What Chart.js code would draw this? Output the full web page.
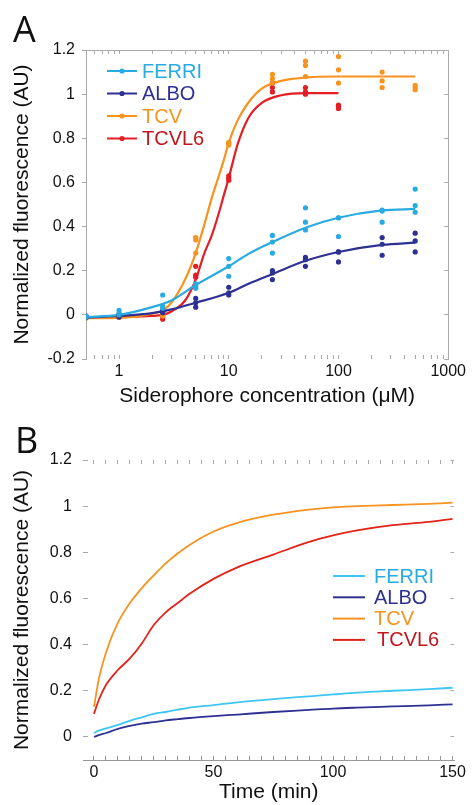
<!DOCTYPE html>
<html>
<head>
<meta charset="utf-8">
<script src="https://cdn.jsdelivr.net/npm/chart.js@4.4.0/dist/chart.umd.min.js"></script>
<style>
  body { margin: 0; background: #fff; }
  #wrap { position: relative; width: 473px; height: 805px; }
  canvas { position: absolute; left: 0; }
  .panel { position: absolute; font-family: "Open Sans", "Liberation Sans", sans-serif; font-size: 36px; line-height: 1; color: #111; }
</style>
</head>
<body>
<div id="wrap">
  <canvas id="chartA" width="473" height="415" style="top:0"></canvas>
  <canvas id="chartB" width="473" height="390" style="top:415px"></canvas>
  <div class="panel" style="left:13px;top:11px">A</div>
  <div class="panel" style="left:15px;top:422px">B</div>
</div>
<script>
// ---- data, panel A (dose response) ----
var names = ["FERRI", "ALBO", "TCV", "TCVL6"];
var concA = [0.5, 1, 2.5, 5, 10, 25, 50, 100, 250, 500];

// three replicates per concentration
var ferriPts = [[-0.01, -0.005, -0.01], [0.02, 0.005, 0.0], [0.09, 0.04, 0.03], [0.14, 0.12, 0.13], [0.255, 0.22, 0.175],
                [0.36, 0.33, 0.28], [0.485, 0.42, 0.385], [0.44, 0.44, 0.355], [0.47, 0.475, 0.42], [0.57, 0.495, 0.465]];
var alboPts = [[-0.01, -0.012, -0.008], [-0.005, -0.01, 0.0], [0.02, 0.015, 0.01], [0.075, 0.055, 0.035], [0.125, 0.1, 0.09],
               [0.2, 0.19, 0.16], [0.26, 0.25, 0.22], [0.285, 0.285, 0.24], [0.35, 0.32, 0.27], [0.37, 0.335, 0.285]];
var tcvPts = [[-0.015, -0.01, -0.012], [-0.01, -0.012, -0.008], [0.0, 0.005, -0.005], [0.35, 0.34, 0.28], [0.78, 0.77, 0.78],
              [1.09, 1.07, 1.05], [1.15, 1.13, 1.08], [1.17, 1.11, 1.05], [1.1, 1.06, 1.03], [1.04, 1.03, 1.02]];
var tcvl6Pts = [[-0.01, -0.005, -0.01], [0.005, -0.005, -0.01], [-0.02, -0.01, 0.0], [0.22, 0.18, 0.17], [0.63, 0.62, 0.61],
                [1.05, 1.03, 1.01], [1.03, 1.01, 1.0], [0.95, 0.945, 0.935]];

// fitted curves
var ferriCurveX = [0.5, 1, 2, 3, 5, 10, 15, 25, 50, 100, 250, 500];
var ferriCurveY = [-0.01, 0.0, 0.035, 0.065, 0.135, 0.22, 0.275, 0.33, 0.395, 0.44, 0.473, 0.48];
var alboCurveX = [0.5, 1, 2, 3, 5, 10, 15, 25, 50, 100, 250, 500];
var alboCurveY = [-0.012, -0.005, 0.008, 0.025, 0.055, 0.1, 0.14, 0.185, 0.245, 0.285, 0.317, 0.327];
var tcvCurveX = [0.5, 1, 2, 2.5, 3, 4, 5, 6, 7, 8, 9, 10, 12, 15, 20, 30, 50, 100, 500];
var tcvCurveY = [-0.015, -0.014, 0.005, 0.02, 0.055, 0.16, 0.28, 0.41, 0.53, 0.62, 0.7, 0.78, 0.88, 0.96, 1.025, 1.06, 1.075, 1.08, 1.08];
var tcvl6CurveX = [0.5, 1, 2, 2.5, 3, 4, 5, 6, 7, 8, 9, 10, 12, 15, 20, 30, 50, 100];
var tcvl6CurveY = [-0.01, -0.01, -0.005, 0.0, 0.015, 0.065, 0.16, 0.28, 0.36, 0.45, 0.54, 0.62, 0.77, 0.89, 0.96, 0.995, 1.005, 1.005];

var xTicksA = [0.5, 0.6, 0.7, 0.8, 0.9, 1, 2, 3, 4, 5, 6, 7, 8, 9, 10, 20, 30, 40, 50, 60, 70, 80, 90, 100,
               200, 300, 400, 500, 600, 700, 800, 900, 1000];
var xLabelsA = [1, 10, 100, 1000];
var yTicksA = [-0.2, 0, 0.2, 0.4, 0.6, 0.8, 1, 1.2];

// ---- data, panel B (time course) ----
var timeB = [0, 2, 5, 10, 15, 20, 25, 30, 35, 40, 50, 60, 75, 90, 100, 110, 125, 140, 150];
var ferriB = [0.017, 0.027, 0.037, 0.052, 0.07, 0.085, 0.1, 0.108, 0.118, 0.127, 0.138, 0.15, 0.164, 0.176, 0.184, 0.192, 0.2, 0.207, 0.213];
var alboB = [0.0, 0.008, 0.017, 0.035, 0.048, 0.058, 0.064, 0.072, 0.077, 0.082, 0.09, 0.097, 0.108, 0.117, 0.123, 0.127, 0.132, 0.137, 0.141];
var tcvB = [0.13, 0.25, 0.365, 0.495, 0.58, 0.645, 0.7, 0.752, 0.795, 0.832, 0.89, 0.928, 0.963, 0.985, 0.995, 1.0, 1.005, 1.01, 1.015];
var tcvl6B = [0.1, 0.16, 0.225, 0.29, 0.34, 0.405, 0.485, 0.54, 0.58, 0.62, 0.685, 0.735, 0.79, 0.845, 0.873, 0.895, 0.918, 0.932, 0.945];

var xLabelsB = [0, 50, 100, 150];
var yTicksB = [0, 0.2, 0.4, 0.6, 0.8, 1, 1.2];

var colorsA = ["#29abe2", "#2e3192", "#f7931e", "#e31e24"];
var colorsB = ["#3ec6f2", "#2e3192", "#f7931e", "#e2231a"];
var textColors = ["#29abe2", "#2e3192", "#f7931e", "#c1161c"];

Chart.defaults.font.family = '"Liberation Sans", Arial, sans-serif';
Chart.defaults.color = "#111";

function points(reps) {
    var out = [];
    reps.forEach(function (r, i) {
        r.forEach(function (v) { out.push({ x: concA[i], y: v }); });
    });
    return out;
}
function xy(xs, ys) {
    return xs.map(function (x, i) { return { x: x, y: ys[i] }; });
}
function setTicks(list) {
    return function (s) { s.ticks = list.map(function (v) { return { value: v }; }); };
}

// legend drawn inside the plot
function legendPlugin(x, y, step, len, gap, dot, lineColors) {
    return {
        id: "insideLegend",
        afterDraw: function (chart) {
            var ctx = chart.ctx;
            ctx.save();
            ctx.font = '20px "Liberation Sans", Arial, sans-serif';
            ctx.textBaseline = "middle";
            names.forEach(function (n, i) {
                var yy = y + i * step;
                ctx.strokeStyle = lineColors[i];
                ctx.lineWidth = 2;
                ctx.beginPath();
                ctx.moveTo(x, yy);
                ctx.lineTo(x + len, yy);
                ctx.stroke();
                if (dot) {
                    ctx.fillStyle = lineColors[i];
                    ctx.beginPath();
                    ctx.arc(x + len / 2, yy, 2.6, 0, Math.PI * 2);
                    ctx.fill();
                }
                ctx.fillStyle = textColors[i];
                ctx.fillText(n, x + len + gap + (i == 3 && !dot ? 3 : 0), yy + 1);
            });
            ctx.restore();
        }
    };
}

var ptsA = [points(ferriPts), points(alboPts), points(tcvPts), points(tcvl6Pts)];
var curvesA = [xy(ferriCurveX, ferriCurveY), xy(alboCurveX, alboCurveY), xy(tcvCurveX, tcvCurveY), xy(tcvl6CurveX, tcvl6CurveY)];

var dsA = [];
names.forEach(function (n, i) {
    dsA.push({ label: n, data: ptsA[i], pointRadius: 2.6, pointBackgroundColor: colorsA[i], pointBorderWidth: 0, order: 0 });
    dsA.push({ label: n + " fit", data: curvesA[i], showLine: true, pointRadius: 0, borderColor: colorsA[i],
               borderWidth: 2.2, cubicInterpolationMode: "monotone", order: 1 });
});

var axisGray = "#aaaaaa";

new Chart(document.getElementById("chartA"), {
    type: "scatter",
    data: { datasets: dsA },
    options: {
        responsive: false,
        animation: false,
        layout: { padding: 0 },
        plugins: { legend: { display: false }, tooltip: { enabled: false } },
        scales: {
            x: {
                type: "logarithmic", position: "bottom", min: 0.5, max: 1000,
                afterBuildTicks: setTicks(xTicksA),
                afterFit: function (s) { s.height = 56; },
                border: { display: false },
                grid: { drawOnChartArea: false, tickLength: -4, tickColor: axisGray },
                ticks: {
                    autoSkip: false, maxRotation: 0, minRotation: 0, padding: 7, font: { size: 16 },
                    callback: function (v) { return xLabelsA.indexOf(v) >= 0 ? String(v) : ""; }
                },
                title: { display: true, text: "Siderophore concentration (μM)", font: { size: 21 }, padding: { top: 0, bottom: 6 } }
            },
            x2: {
                type: "logarithmic", position: "top", min: 0.5, max: 1000,
                afterBuildTicks: setTicks(xTicksA),
                afterFit: function (s) { s.height = 50; },
                border: { display: true, color: axisGray },
                grid: { drawOnChartArea: false, tickLength: -4, tickColor: axisGray },
                ticks: { display: false }
            },
            y: {
                min: -0.2, max: 1.2,
                afterBuildTicks: setTicks(yTicksA),
                afterFit: function (s) { s.width = 86; },
                border: { display: true, color: axisGray },
                grid: { drawOnChartArea: false, tickLength: 4, tickColor: axisGray },
                ticks: { padding: 7, font: { size: 16 }, callback: function (v) { return String(v); } },
                title: { display: true, text: "Normalized fluorescence (AU)", font: { size: 21 }, padding: { top: 10, bottom: 0 } }
            },
            y2: {
                position: "right", min: -0.2, max: 1.2,
                afterBuildTicks: setTicks(yTicksA),
                afterFit: function (s) { s.width = 22; },
                border: { display: true, color: axisGray },
                grid: { drawOnChartArea: false, tickLength: -4, tickColor: axisGray },
                ticks: { display: false }
            }
        }
    },
    plugins: [legendPlugin(107, 71, 22.5, 30, 5, true, colorsA)]
});

// ---- panel B ----
var seriesB = [ferriB, alboB, tcvB, tcvl6B];
var dsB = names.map(function (n, i) {
    return { label: n, data: xy(timeB, seriesB[i]), showLine: true, pointRadius: 0, borderColor: colorsB[i],
             borderWidth: 1.8, cubicInterpolationMode: "monotone" };
});

var minorB = [];
for (var t = 0; t <= 150; t += 5) minorB.push(t);

new Chart(document.getElementById("chartB"), {
    type: "scatter",
    data: { datasets: dsB },
    options: {
        responsive: false,
        animation: false,
        layout: { padding: 0 },
        plugins: { legend: { display: false }, tooltip: { enabled: false } },
        scales: {
            x: {
                min: -4.6, max: 150.8,
                afterBuildTicks: setTicks(minorB),
                afterFit: function (s) { s.height = 45; },
                border: { display: true, color: "#999" },
                grid: { drawOnChartArea: false, tickLength: -4, tickColor: "#999" },
                ticks: {
                    autoSkip: false, maxRotation: 0, minRotation: 0, padding: 7, font: { size: 16 },
                    callback: function (v) { return xLabelsB.indexOf(v) >= 0 ? String(v) : ""; }
                },
                title: { display: true, text: "Time (min)", font: { size: 21 }, padding: { top: 0, bottom: 0 } }
            },
            x2: {
                position: "top", min: -4.6, max: 150.8,
                afterBuildTicks: setTicks(minorB),
                afterFit: function (s) { s.height = 45; },
                border: { display: false },
                grid: { drawOnChartArea: false, tickLength: -4, tickColor: "#aaa" },
                ticks: { display: false }
            },
            y: {
                min: -0.1, max: 1.2,
                afterBuildTicks: setTicks(yTicksB),
                afterFit: function (s) { s.width = 83; },
                border: { display: false },
                grid: { drawOnChartArea: false, tickLength: -5, tickColor: "#aaa" },
                ticks: { padding: 16, font: { size: 16 }, callback: function (v) { return String(v); } },
                title: { display: true, text: "Normalized fluorescence (AU)", font: { size: 21 }, padding: { top: 10, bottom: 0 } }
            },
            y2: {
                position: "right", min: -0.1, max: 1.2,
                afterBuildTicks: setTicks(yTicksB),
                afterFit: function (s) { s.width = 18; },
                border: { display: false },
                grid: { drawOnChartArea: false, tickLength: -4, tickColor: "#aaa" },
                ticks: { display: false }
            }
        }
    },
    plugins: [legendPlugin(333, 161, 21.3, 32, 9, false, colorsB)]
});
</script>
</body>
</html>
